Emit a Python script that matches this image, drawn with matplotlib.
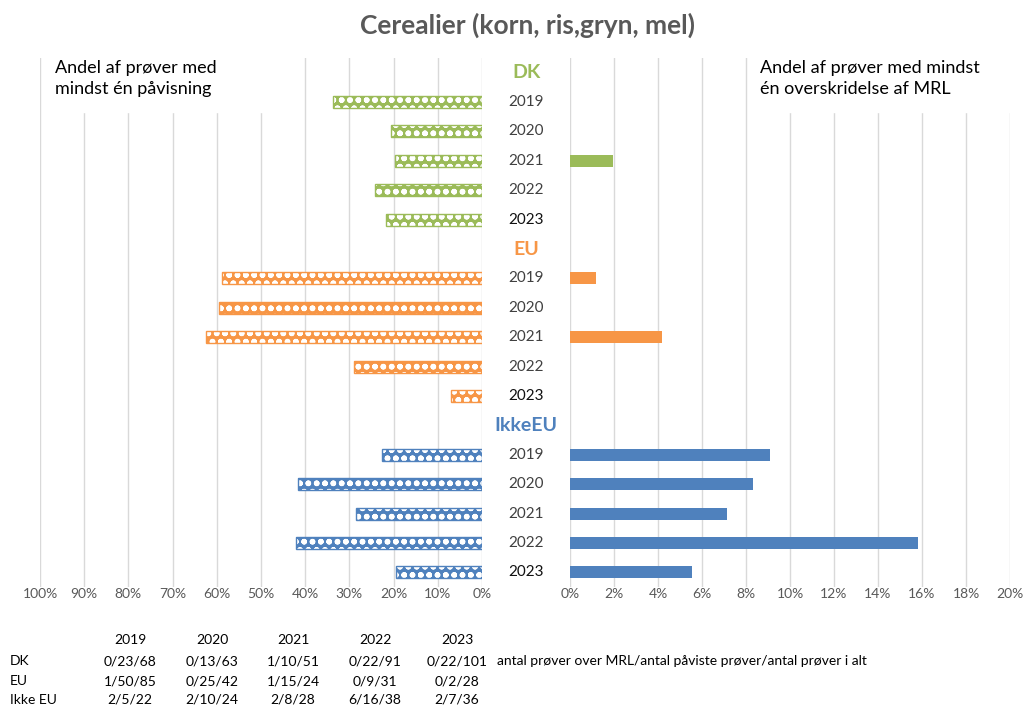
import matplotlib.pyplot as plt
from matplotlib.patches import Rectangle

plt.rcParams['font.family'] = ['Lato', 'DejaVu Sans']
plt.rcParams['hatch.linewidth'] = 1.7

groups = ['DK', 'EU', 'IkkeEU']
years = ['2019', '2020', '2021', '2022', '2023']
colors = {'DK': '#9BBB59', 'EU': '#F79646', 'IkkeEU': '#4F81BD'}

# andel med mindst en påvisning (%)
detect = {
    'DK': [33.8, 20.6, 19.6, 24.2, 21.8],
    'EU': [58.8, 59.5, 62.5, 29.0, 7.1],
    'IkkeEU': [22.7, 41.7, 28.6, 42.1, 19.4],
}
# andel med overskridelse af MRL (%)
mrl = {
    'DK': [0, 0, 1.96, 0, 0],
    'EU': [1.18, 0, 4.17, 0, 0],
    'IkkeEU': [9.09, 8.33, 7.14, 15.8, 5.56],
}

tbl_rows = ['DK', 'EU', 'Ikke EU']
tbl_dk = ['0/23/68', '0/13/63', '1/10/51', '0/22/91', '0/22/101']
tbl_eu = ['1/50/85', '0/25/42', '1/15/24', '0/9/31', '0/2/28']
tbl_ikke = ['2/5/22', '2/10/24', '2/8/28', '6/16/38', '2/7/36']

W, H = 1025, 706
fig = plt.figure(figsize=(W / 100, H / 100), dpi=100)
top, bot = 58, 587
axL = fig.add_axes([40 / W, (H - bot) / H, 442 / W, (bot - top) / H])
axR = fig.add_axes([570 / W, (H - bot) / H, 440 / W, (bot - top) / H])
axM = fig.add_axes([482 / W, (H - bot) / H, 88 / W, (bot - top) / H])

grid_c = '#D9D9D9'
tick_c = '#595959'
bh = 0.41

row = 0
for g in groups:
    axM.text(0.5, row, g, ha='center', va='center', fontsize=14,
             fontweight='bold', color=colors[g])
    row += 1
    for i, y in enumerate(years):
        axM.text(0.5, row, y, ha='center', va='center', fontsize=11,
                 color='#111111' if y == '2023' else '#404040')
        v = detect[g][i] / 100
        axL.barh(row, v, height=bh, color=colors[g], edgecolor='white',
                 hatch='oo', linewidth=0, zorder=2)
        axL.barh(row, v, height=bh, fill=False, edgecolor=colors[g],
                 linewidth=1, zorder=3)
        m = mrl[g][i] / 100
        if m > 0:
            axR.barh(row, m, height=bh, color=colors[g], zorder=2)
        row += 1

for ax in (axL, axR, axM):
    ax.set_ylim(row - 0.5, -0.5)
    ax.set_yticks([])
    for s in ax.spines.values():
        s.set_visible(False)

axM.set_xlim(0, 1)
axM.set_xticks([])

axL.set_xlim(1.0, 0)
axL.set_xticks([i / 10 for i in range(11)])
axL.set_xticklabels([f'{i * 10}%' for i in range(11)])
axR.set_xlim(0, 0.20)
axR.set_xticks([i / 50 for i in range(11)])
axR.set_xticklabels([f'{i * 2}%' for i in range(11)])
for ax in (axL, axR):
    ax.grid(axis='x', color=grid_c, linewidth=1, zorder=0)
    ax.set_axisbelow(True)
    ax.tick_params(axis='x', length=0, labelsize=10, labelcolor=tick_c, pad=1)

# hvide tekstfelter over gitteret
fig.add_artist(Rectangle((60 / W, (H - 112) / H), 240 / W, 54 / H,
                         transform=fig.transFigure, color='white', zorder=1))
fig.add_artist(Rectangle((755 / W, (H - 112) / H), 262 / W, 54 / H,
                         transform=fig.transFigure, color='white', zorder=1))
fig.text(55 / W, 1 - 60 / H, 'Andel af prøver med\nmindst én påvisning',
         ha='left', va='top', fontsize=13, linespacing=1.4, zorder=2)
fig.text(760 / W, 1 - 60 / H, 'Andel af prøver med mindst\nén overskridelse af MRL',
         ha='left', va='top', fontsize=13, linespacing=1.4, zorder=2)

fig.text(528 / W, 1 - 25 / H, 'Cerealier (korn, ris,gryn, mel)', ha='center',
         va='center', fontsize=19, fontweight='bold', color=tick_c)

# tabel under diagrammet
col_x = [130, 212, 293, 375, 457]
row_y = [661, 681, 700]
for x, y in zip(col_x, years):
    fig.text(x / W, 1 - 640 / H, y, ha='center', va='center', fontsize=10)
for ry, name, vals in zip(row_y, tbl_rows, [tbl_dk, tbl_eu, tbl_ikke]):
    fig.text(10 / W, 1 - ry / H, name, ha='left', va='center', fontsize=10)
    for x, v in zip(col_x, vals):
        fig.text(x / W, 1 - ry / H, v, ha='center', va='center', fontsize=10)
fig.text(497 / W, 1 - 661 / H,
         'antal prøver over MRL/antal påviste prøver/antal prøver i alt',
         ha='left', va='center', fontsize=10)

fig.savefig('out.png', dpi=100)
